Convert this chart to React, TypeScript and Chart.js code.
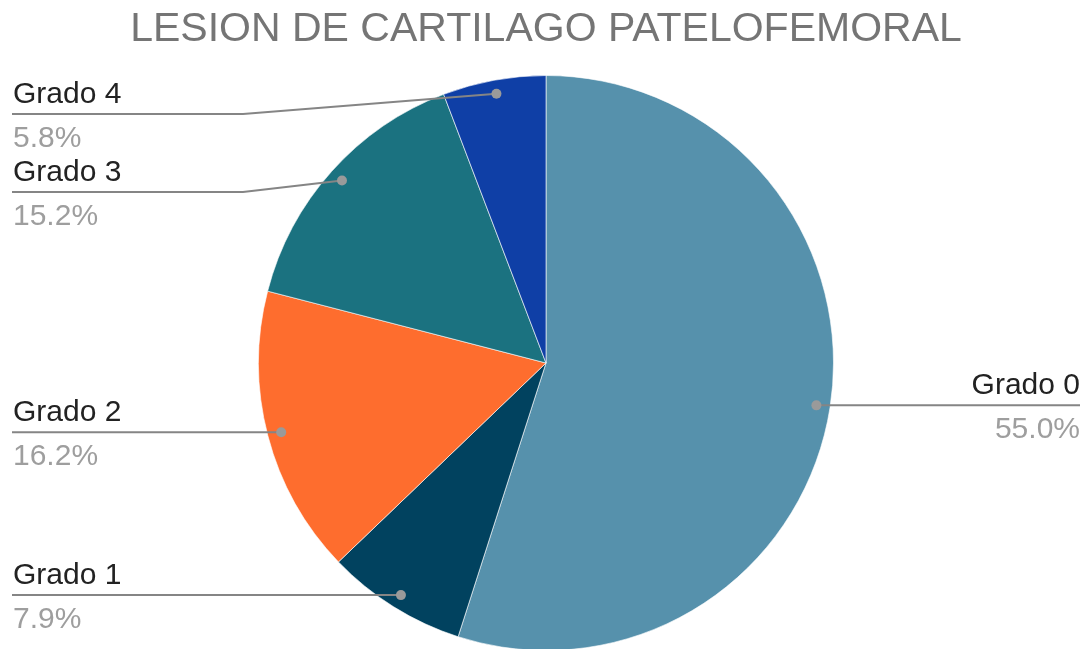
import React, { useEffect, useRef } from "react";
import { Chart, registerables } from "chart.js";

Chart.register(...registerables);

const TITLE = "LESION DE CARTILAGO PATELOFEMORAL";
const categories = ["Grado 0", "Grado 1", "Grado 2", "Grado 3", "Grado 4"];
const percentages = [55.0, 7.9, 16.2, 15.2, 5.8];
const colors = ["#5691AC", "#01425F", "#FE6D2E", "#1B7280", "#0F3FA6"];

const FONT = "'Liberation Sans', Arial, sans-serif";

const labelPlugin = {
  id: "sideLabels",
  afterDraw(chart: any) {
    const ctx = chart.ctx;
    const W = chart.width;
    ctx.save();
    // Title
    ctx.font = `41px ${FONT}`;
    ctx.fillStyle = "#757575";
    ctx.textAlign = "center";
    ctx.textBaseline = "alphabetic";
    ctx.fillText(TITLE, 546, 41);

    const meta = chart.getDatasetMeta(0);
    const items: any[] = [];
    meta.data.forEach((arc: any, i: number) => {
      const p = arc.getProps(["x", "y", "startAngle", "endAngle", "outerRadius"], true);
      const mid = (p.startAngle + p.endAngle) / 2;
      const r = p.outerRadius * 0.952;
      const px = p.x + Math.cos(mid) * r;
      const py = p.y + Math.sin(mid) * r;
      items.push({ i, px, py, left: Math.cos(mid) < 0 });
    });

    const leftItems = items.filter((d) => d.left).sort((a, b) => a.py - b.py);
    const rightItems = items.filter((d) => !d.left).sort((a, b) => a.py - b.py);
    const topLimit = 114;
    const gap = 78;
    let prev = -Infinity;
    leftItems.forEach((d) => {
      d.ly = Math.max(d.py, topLimit, prev + gap);
      prev = d.ly;
    });
    prev = -Infinity;
    rightItems.forEach((d) => {
      d.ly = Math.max(d.py, topLimit, prev + gap);
      prev = d.ly;
    });

    const leftX = 12;
    const rightX = W - 11;
    const elbowLeft = 243;
    const elbowRight = W - 243;

    items.forEach((d) => {
      ctx.strokeStyle = "#858585";
      ctx.lineWidth = 2;
      ctx.beginPath();
      if (d.left) {
        ctx.moveTo(leftX, d.ly);
        ctx.lineTo(Math.min(elbowLeft, d.px), d.ly);
        ctx.lineTo(d.px, d.py);
      } else {
        ctx.moveTo(rightX, d.ly);
        ctx.lineTo(Math.max(elbowRight, d.px), d.ly);
        ctx.lineTo(d.px, d.py);
      }
      ctx.stroke();
      ctx.fillStyle = "#9a9a9a";
      ctx.beginPath();
      ctx.arc(d.px, d.py, 5, 0, Math.PI * 2);
      ctx.fill();
      ctx.font = `30px ${FONT}`;
      ctx.textBaseline = "alphabetic";
      ctx.textAlign = d.left ? "left" : "right";
      const tx = d.left ? leftX + 1 : rightX;
      ctx.fillStyle = "#222222";
      ctx.fillText(categories[d.i], tx, d.ly - 11);
      ctx.fillStyle = "#9E9E9E";
      ctx.fillText(percentages[d.i].toFixed(1) + "%", tx, d.ly + 33);
    });
    ctx.restore();
  },
};

export default function App() {
  const ref = useRef<HTMLCanvasElement | null>(null);
  useEffect(() => {
    document.body.style.margin = "0";
    document.body.style.overflow = "hidden";
    const chart = new Chart(ref.current!, {
      type: "pie",
      data: {
        labels: categories,
        datasets: [
          {
            data: percentages,
            backgroundColor: colors,
            borderColor: "rgba(255,255,255,0.6)",
            borderWidth: 1,
          },
        ],
      },
      options: {
        responsive: false,
        animation: false,
        devicePixelRatio: 1,
        layout: { padding: { top: 75, bottom: 1, left: 258, right: 257 } },
        plugins: {
          legend: { display: false },
          tooltip: { enabled: false },
          title: { display: false },
        },
      },
      plugins: [labelPlugin],
    });
    return () => chart.destroy();
  }, []);
  return (
    <div style={{ position: "absolute", left: 0, top: 0, width: 1091, height: 649, overflow: "hidden", background: "#fff" }}>
      <canvas ref={ref} width={1091} height={652} style={{ display: "block" }} />
    </div>
  );
}
